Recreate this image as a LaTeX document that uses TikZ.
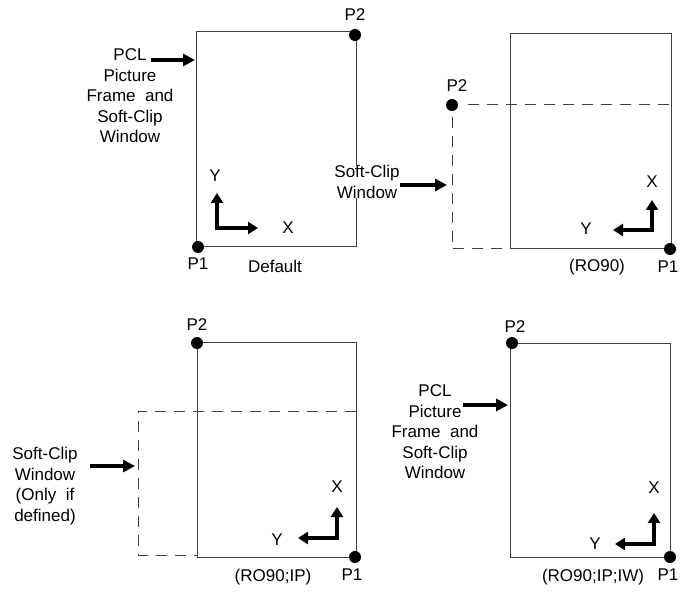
\documentclass[tikz,border=0pt]{standalone}
\usepackage{fontspec}
\setmainfont{Liberation Sans}
\usetikzlibrary{arrows.meta}
\begin{document}
\begin{tikzpicture}[x=1pt,y=-1pt, font=\fontsize{17}{20.5}\selectfont,
 frame/.style={draw=black!75, line width=1pt},
 dashline/.style={draw=black!75, line width=1pt, dash pattern=on 11pt off 8pt},
 dot/.style={circle, fill=black, inner sep=0pt, minimum size=12pt},
 lbl/.style={inner sep=0pt, align=center},
 axisarrow/.style={line width=3.2pt, {Triangle[length=10pt,width=12pt]}-{Triangle[length=10pt,width=12pt]}, line join=miter},
 pointer/.style={line width=3.5pt, -{Triangle[length=12pt,width=12pt]}}]
\useasboundingbox (0,0) rectangle (684,601);

% ---------- Panel 1: Default ----------
\draw[frame] (196,32) rectangle (356,247);
\node[dot] (a1) at (198,247) {};
\node[dot] (a2) at (355,35) {};
\node[lbl] (a1l) at (198,264) {P1};
\node[lbl] (a2l) at (355,15) {P2};
\node[lbl] (adef) at (275,266) {Default};
\node[lbl] (atxt) at (130,96) {PCL\\Picture\\Frame\ \ and\\Soft-Clip\\Window};
\coordinate (as) at (151,60);
\coordinate (ae) at (195,60);
\draw[pointer] (as) -- (ae);
\coordinate (ay) at (217,193);
\coordinate (ac) at (217,228);
\coordinate (ax) at (258,228);
\draw[axisarrow] (ay) -- (ac) -- (ax);
\node[lbl] (ayl) at (215,176) {Y};
\node[lbl] (axl) at (288,228) {X};

% ---------- Panel 2: RO90 ----------
\draw[frame] (510,34) rectangle (671,249);
\draw[dashline] (468,105) -- (671,105);
\draw[dashline] (452,117) -- (452,249) -- (510,249);
\node[dot] (b2) at (452,105) {};
\node[dot] (b1) at (670,249) {};
\node[lbl] (b2l) at (457,86) {P2};
\node[lbl] (b1l) at (668,267) {P1};
\node[lbl] (bcap) at (597,267) {(RO90)};
\node[lbl, fill=white] (btxt) at (367,182) {Soft-Clip\\Window};
\coordinate (bs) at (400,185);
\coordinate (be) at (447,185);
\draw[pointer] (bs) -- (be);
\coordinate (bx) at (652,200);
\coordinate (bc) at (652,230);
\coordinate (by) at (613,230);
\draw[axisarrow] (bx) -- (bc) -- (by);
\node[lbl] (bxl) at (652,182) {X};
\node[lbl] (byl) at (586,229) {Y};

% ---------- Panel 3: RO90;IP ----------
\draw[frame] (197,342) rectangle (356,557);
\draw[dashline] (356,411) -- (138,411) -- (138,555) -- (197,555);
\node[dot] (c2) at (197,343) {};
\node[dot] (c1) at (355,557) {};
\node[lbl] (c2l) at (197,325) {P2};
\node[lbl] (c1l) at (352,575) {P1};
\node[lbl] (ccap) at (273,577) {(RO90;IP)};
\node[lbl] (ctxt) at (45,486) {Soft-Clip\\Window\\(Only\ \ if\\defined)};
\coordinate (cs) at (90,466);
\coordinate (ce) at (135,466);
\draw[pointer] (cs) -- (ce);
\coordinate (cx) at (337,507);
\coordinate (cc) at (337,538);
\coordinate (cy) at (298,538);
\draw[axisarrow] (cx) -- (cc) -- (cy);
\node[lbl] (cxl) at (337,487) {X};
\node[lbl] (cyl) at (277,540) {Y};

% ---------- Panel 4: RO90;IP;IW ----------
\draw[frame] (510,343) rectangle (670,557);
\node[dot] (d2) at (512,343) {};
\node[dot] (d1) at (670,557) {};
\node[lbl] (d2l) at (515,327) {P2};
\node[lbl] (d1l) at (668,575) {P1};
\node[lbl] (dcap) at (593,577) {(RO90;IP;IW)};
\node[lbl] (dtxt) at (435,432) {PCL\\Picture\\Frame\ \ and\\Soft-Clip\\Window};
\coordinate (ds) at (463,405);
\coordinate (de) at (508,405);
\draw[pointer] (ds) -- (de);
\coordinate (dx) at (654,513);
\coordinate (dc) at (654,544);
\coordinate (dy) at (615,544);
\draw[axisarrow] (dx) -- (dc) -- (dy);
\node[lbl] (dxl) at (654,488) {X};
\node[lbl] (dyl) at (595,544) {Y};
\end{tikzpicture}
\end{document}
